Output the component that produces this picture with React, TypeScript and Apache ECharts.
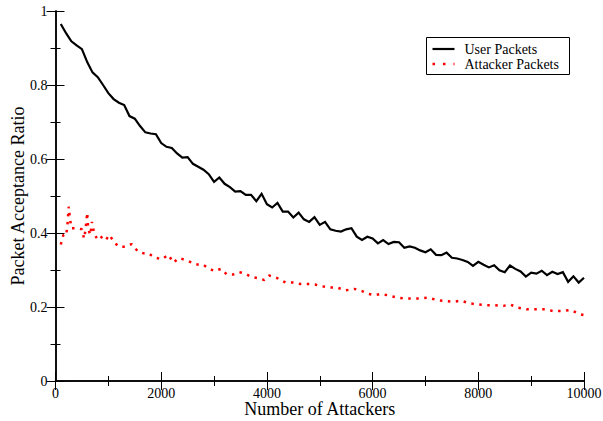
import React, { useEffect, useRef } from "react";
import * as echarts from "echarts";

const FONT = "'Liberation Serif', 'Times New Roman', serif";

// User packets: sampled every 100 attackers from 100 to 10000
const userX = Array.from({ length: 100 }, (_, i) => 100 + i * 100);
const userY = [
  0.965, 0.94, 0.918, 0.907, 0.897, 0.862, 0.834, 0.821, 0.8, 0.778,
  0.762, 0.752, 0.746, 0.716, 0.709, 0.689, 0.672, 0.669, 0.667, 0.643,
  0.633, 0.63, 0.615, 0.604, 0.605, 0.587, 0.579, 0.571, 0.559, 0.538,
  0.55, 0.533, 0.524, 0.512, 0.513, 0.503, 0.503, 0.486, 0.506, 0.478,
  0.469, 0.481, 0.458, 0.458, 0.442, 0.455, 0.437, 0.43, 0.443, 0.422,
  0.43, 0.41, 0.406, 0.404, 0.41, 0.413, 0.39, 0.381, 0.39, 0.385,
  0.372, 0.381, 0.37, 0.376, 0.375, 0.36, 0.364, 0.36, 0.353, 0.348,
  0.356, 0.341, 0.34, 0.347, 0.333, 0.331, 0.327, 0.322, 0.311, 0.322,
  0.314, 0.307, 0.313, 0.299, 0.294, 0.312, 0.303, 0.296, 0.282, 0.293,
  0.29, 0.298, 0.286, 0.295, 0.289, 0.294, 0.268, 0.283, 0.266, 0.279,
];

// Attacker packets
const attackerX = [
  100, 150, 200, 225, 250, 275, 300, 400, 500, 540, 570, 600, 620, 660, 690,
  730, 800, 900, 960, 1020, 1110, 1200, 1320, 1440, 1560, 1670, 1760, 1870,
  2010, 2135, 2230, 2330, 2390, 2515, 2660, 2785, 2880, 3005, 3130, 3240,
  3365, 3470, 3575, 3700, 3825, 3950, 4045, 4195, 4355, 4500, 4640, 4785,
  4910, 5005, 5160, 5320, 5490, 5655, 5800, 5925, 6040, 6140, 6280, 6445,
  6600, 6760, 6885, 7045, 7215, 7370, 7525, 7675, 7830, 7990, 8145, 8315,
  8475, 8600, 8755, 8915, 9090, 9260, 9420, 9590, 9755, 9910, 10000,
];
const attackerY = [
  0.369, 0.395, 0.393, 0.419, 0.471, 0.438, 0.413, 0.413, 0.41, 0.385, 0.41,
  0.455, 0.41, 0.395, 0.43, 0.399, 0.381, 0.392, 0.383, 0.395, 0.375, 0.363,
  0.363, 0.37, 0.35, 0.345, 0.345, 0.334, 0.329, 0.341, 0.32, 0.332, 0.33,
  0.324, 0.315, 0.315, 0.306, 0.297, 0.303, 0.288, 0.288, 0.294, 0.291,
  0.282, 0.278, 0.273, 0.285, 0.278, 0.266, 0.266, 0.262, 0.262, 0.261,
  0.257, 0.253, 0.253, 0.245, 0.249, 0.243, 0.235, 0.232, 0.235, 0.232,
  0.226, 0.223, 0.223, 0.223, 0.225, 0.219, 0.216, 0.214, 0.217, 0.21,
  0.207, 0.205, 0.205, 0.203, 0.207, 0.198, 0.194, 0.194, 0.194, 0.189,
  0.189, 0.192, 0.181, 0.178,
];

const seriesNames = ["User Packets", "Attacker Packets"];
const xTitle = "Number of Attackers";
const yTitle = "Packet Acceptance Ratio";

export default function App() {
  const ref = useRef<HTMLDivElement>(null);
  useEffect(() => {
    if (!ref.current) return;
    const chart = echarts.init(ref.current, undefined, { renderer: "svg" });
    const lineCommon = { show: true, lineStyle: { color: "#000", width: 1.5 } };
    const tickCommon = {
      show: true,
      inside: true,
      length: 9,
      lineStyle: { color: "#000", width: 1 },
    };
    const minorCommon = {
      show: true,
      splitNumber: 2,
      length: 5,
      lineStyle: { color: "#000", width: 1 },
    };
    const labelStyle = { color: "#000", fontFamily: FONT, fontSize: 14 };
    const redDash = [2.5, 5.5];
    chart.setOption({
      animation: false,
      backgroundColor: "#fff",
      grid: {
        left: 55.5,
        right: 19,
        top: 11,
        bottom: 40,
        containLabel: false,
        outerBoundsMode: "none",
      },
      graphic: [
        {
          type: "group",
          left: 426,
          top: 37,
          z: 100,
          children: [
            {
              type: "rect",
              shape: { x: 0, y: 0, width: 143, height: 37 },
              style: { fill: "#fff", stroke: "#000", lineWidth: 1 },
            },
            {
              type: "line",
              shape: { x1: 6, y1: 11.5, x2: 28, y2: 11.5 },
              style: { stroke: "#000", lineWidth: 2.2 },
            },
            {
              type: "line",
              shape: { x1: 6, y1: 26.5, x2: 28, y2: 26.5 },
              style: { stroke: "#ff0000", lineWidth: 2.5, lineDash: [2.5, 8] },
            },
            {
              type: "text",
              x: 38,
              y: 11.5,
              style: {
                text: seriesNames[0],
                fill: "#000",
                font: `14px ${FONT}`,
                verticalAlign: "middle",
              },
            },
            {
              type: "text",
              x: 38,
              y: 26.5,
              style: {
                text: seriesNames[1],
                fill: "#000",
                font: `14px ${FONT}`,
                verticalAlign: "middle",
              },
            },
          ],
        },
      ],
      xAxis: [
        {
          type: "value",
          min: 0,
          max: 10000,
          interval: 2000,
          position: "bottom",
          axisLine: lineCommon,
          axisTick: tickCommon,
          minorTick: minorCommon,
          splitLine: { show: false },
          axisLabel: { ...labelStyle, margin: 5, formatter: (v: number) => String(v) },
          name: xTitle,
          nameLocation: "middle",
          nameGap: 19,
          nameMoveOverlap: false,
          nameTextStyle: { color: "#000", fontFamily: FONT, fontSize: 18 },
        },
        {
          type: "value",
          min: 0,
          max: 10000,
          interval: 2000,
          position: "top",
          axisLine: lineCommon,
          axisTick: tickCommon,
          minorTick: minorCommon,
          splitLine: { show: false },
          axisLabel: { show: false },
        },
      ],
      yAxis: [
        {
          type: "value",
          min: 0,
          max: 1,
          interval: 0.2,
          position: "left",
          axisLine: lineCommon,
          axisTick: tickCommon,
          minorTick: minorCommon,
          splitLine: { show: false },
          axisLabel: { ...labelStyle, margin: 8, formatter: (v: number) => String(v) },
          name: yTitle,
          nameLocation: "middle",
          nameGap: 29,
          nameMoveOverlap: false,
          nameTextStyle: { color: "#000", fontFamily: FONT, fontSize: 18 },
        },
        {
          type: "value",
          min: 0,
          max: 1,
          interval: 0.2,
          position: "right",
          axisLine: lineCommon,
          axisTick: tickCommon,
          minorTick: minorCommon,
          splitLine: { show: false },
          axisLabel: { show: false },
        },
      ],
      series: [
        {
          name: seriesNames[0],
          type: "line",
          xAxisIndex: 0,
          yAxisIndex: 0,
          data: userX.map((x, i) => [x, userY[i]]),
          showSymbol: false,
          symbol: "none",
          lineStyle: { color: "#000", width: 2.2, join: "miter" },
          itemStyle: { color: "#000" },
        },
        {
          name: seriesNames[1],
          type: "line",
          xAxisIndex: 0,
          yAxisIndex: 0,
          data: attackerX.map((x, i) => [x, attackerY[i]]),
          showSymbol: false,
          symbol: "none",
          lineStyle: { color: "#ff0000", width: 2.5, type: redDash },
          itemStyle: { color: "#ff0000" },
        },
      ],
    });
    return () => chart.dispose();
  }, []);
  return (
    <div
      ref={ref}
      style={{ position: "fixed", left: 0, top: 0, width: 603, height: 421 }}
    />
  );
}
